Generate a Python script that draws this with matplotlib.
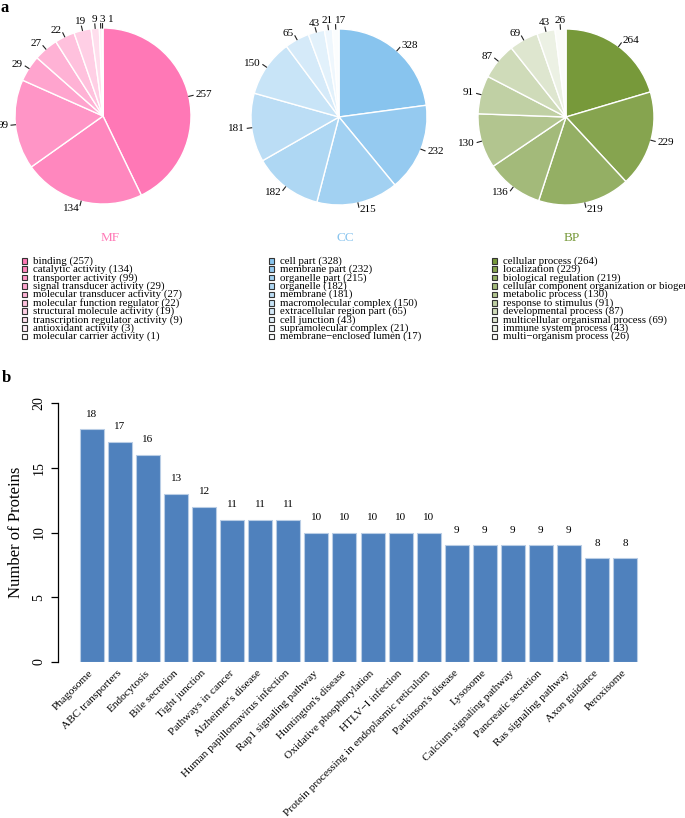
import numpy as np
import matplotlib
matplotlib.use("Agg")
import matplotlib.pyplot as plt
from matplotlib.colors import to_rgb
from matplotlib.patches import Rectangle

plt.rcParams['font.family'] = ['Liberation Serif', 'DejaVu Serif']

# ------------------------------------------------------------------
# Data
# ------------------------------------------------------------------
mf_terms = ["binding", "catalytic activity", "transporter activity",
            "signal transducer activity", "molecular transducer activity",
            "molecular function regulator", "structural molecule activity",
            "transcription regulator activity", "antioxidant activity",
            "molecular carrier activity"]
mf_counts = [257, 134, 99, 29, 27, 22, 19, 9, 3, 1]

cc_terms = ["cell part", "membrane part", "organelle part", "organelle",
            "membrane", "macromolecular complex", "extracellular region part",
            "cell junction", "supramolecular complex",
            "membrane\u2212enclosed lumen"]
cc_counts = [328, 232, 215, 182, 181, 150, 65, 43, 21, 17]

bp_terms = ["cellular process", "localization", "biological regulation",
            "cellular component organization or biogenesis",
            "metabolic process", "response to stimulus",
            "developmental process", "multicellular organismal process",
            "immune system process", "multi\u2212organism process"]
bp_counts = [264, 229, 219, 136, 130, 91, 87, 69, 43, 26]

pathways = ["Phagosome", "ABC transporters", "Endocytosis", "Bile secretion",
            "Tight junction", "Pathways in cancer", "Alzheimer's disease",
            "Human papillomavirus infection", "Rap1 signaling pathway",
            "Huntington's disease", "Oxidative phosphorylation",
            "HTLV\u2212I infection",
            "Protein processing in endoplasmic reticulum",
            "Parkinson's disease", "Lysosome", "Calcium signaling pathway",
            "Pancreatic secretion", "Ras signaling pathway", "Axon guidance",
            "Peroxisome"]
protein_counts = [18, 17, 16, 13, 12, 11, 11, 11, 10, 10, 10, 10, 10,
                  9, 9, 9, 9, 9, 8, 8]

W, H = 685, 818
fig = plt.figure(figsize=(W / 100, H / 100), dpi=100)


def fx(x):
    return x / W


def fy(y):
    return 1 - y / H


def ramp(base, n):
    b = np.array(to_rgb(base))
    return [tuple(b + (1 - b) * t) for t in np.linspace(0, 0.97, n)]


def draw_go(counts, terms, base, title, cx, cy, r, tx, sq_x, text_x):
    cols = ramp(base, len(counts))
    h = 115
    ax = fig.add_axes([fx(cx - h), fy(cy + h), 2 * h / W, 2 * h / H])
    wedges, _ = ax.pie(counts, colors=cols, startangle=90, counterclock=False,
                       wedgeprops=dict(edgecolor='white', linewidth=1.0))
    lim = h / r
    ax.set_xlim(-lim, lim)
    ax.set_ylim(-lim, lim)
    ax.set_aspect('auto')
    ax.axis('off')

    top = []
    for w, v in zip(wedges, counts):
        th = np.deg2rad((w.theta1 + w.theta2) / 2)
        c, s = np.cos(th), np.sin(th)
        ax.plot([c, 1.05 * c], [s, 1.05 * s], color='#222222', lw=0.8,
                clip_on=False)
        if abs(c) < 0.3 and s > 0:
            top.append([1.1 * c, 1.1 * s, str(v)])
        else:
            ax.text(1.08 * c, 1.08 * s, str(v), fontsize=8,
                    ha='left' if c >= 0 else 'right', va='center')
    # spread the crowded labels at the top of the pie
    top.sort(key=lambda t: t[0])
    for i in range(1, len(top)):
        gap = ((len(top[i][2]) + len(top[i - 1][2])) * 2.6 + 3) / r
        if top[i][0] - top[i - 1][0] < gap:
            top[i][0] = top[i - 1][0] + gap
    for px, py, lab in top:
        ax.text(px, py, lab, fontsize=8, ha='center', va='center')

    fig.text(fx(tx), fy(238), title, color=base, fontsize=9.5,
             ha='center', va='center')
    for i, (t, v, col) in enumerate(zip(terms, counts, cols)):
        y = 261 + i * 8.4
        fig.patches.append(Rectangle((fx(sq_x - 2.5), fy(y + 2.5)),
                                     5.5 / W, 5.5 / H,
                                     transform=fig.transFigure,
                                     facecolor=col, edgecolor='#333333',
                                     lw=0.8))
        fig.text(fx(text_x), fy(y), f"{t} ({v})", fontsize=7.8,
                 ha='left', va='center')


draw_go(mf_counts, mf_terms, '#FF78B6', 'MF', 103, 116, 88, 110, 24, 33)
draw_go(cc_counts, cc_terms, '#88C4EE', 'CC', 339, 117, 88, 345, 271, 280)
draw_go(bp_counts, bp_terms, '#77993A', 'BP', 566, 117, 88, 572, 494, 503)

fig.text(fx(5), fy(8), 'a', fontsize=12, fontweight='bold',
         ha='center', va='center')
fig.text(fx(6), fy(378), 'b', fontsize=12, fontweight='bold',
         ha='center', va='center')

# ------------------------------------------------------------------
# Bar chart
# ------------------------------------------------------------------
ax_l, ax_r, ax_t, ax_b = 58, 665, 403, 662
axb = fig.add_axes([fx(ax_l), fy(ax_b), (ax_r - ax_l) / W, (ax_b - ax_t) / H])
pitch = 28.05
x = np.arange(len(protein_counts))
bw = 24 / pitch
axb.bar(x, protein_counts, width=bw, color='#4F81BD', edgecolor='#B9CDE5',
        linewidth=0.8)
left = -bw / 2 - (80 - ax_l) / pitch
axb.set_xlim(left, left + (ax_r - ax_l) / pitch)
axb.set_ylim(0, 20)
for xi, v in zip(x, protein_counts):
    axb.text(xi, v + 1.15, str(v), ha='center', va='center', fontsize=8,
             clip_on=False)

for sp in ['top', 'right', 'bottom']:
    axb.spines[sp].set_visible(False)
axb.spines['left'].set_linewidth(0.9)
axb.spines['left'].set_bounds(0, 20)
axb.set_yticks([0, 5, 10, 15, 20])
axb.set_yticklabels(['0', '5', '10', '15', '20'], rotation=90, va='center',
                    fontsize=10)
axb.tick_params(axis='y', length=5, width=0.9, pad=4)
axb.set_xticks(x)
axb.set_xticklabels(pathways, rotation=45, ha='right', va='center',
                    rotation_mode='anchor', fontsize=8.2)
axb.tick_params(axis='x', length=0, pad=7)
axb.set_ylabel('Number of Proteins', fontsize=12, labelpad=6)

plt.savefig('out.png', dpi=100)
